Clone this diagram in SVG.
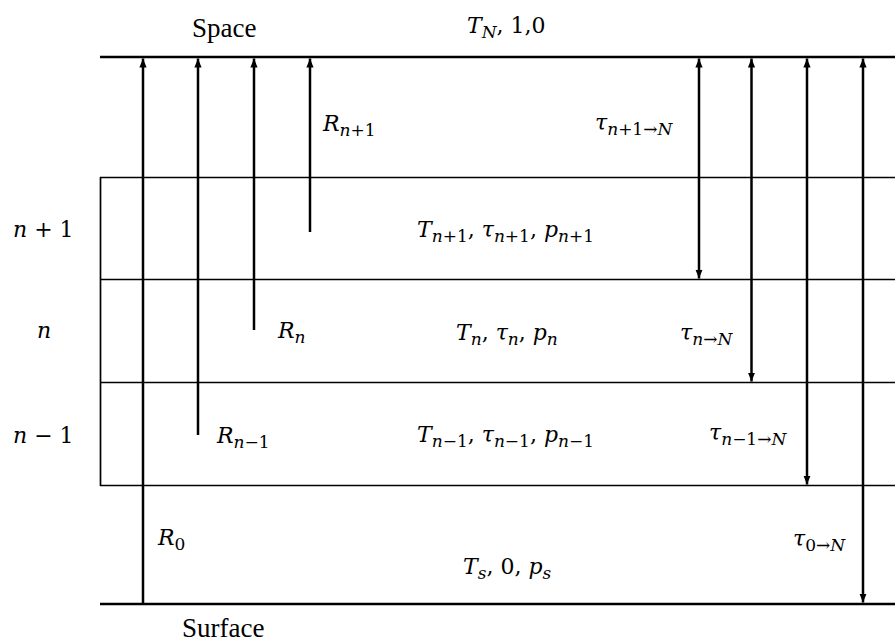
<svg xmlns="http://www.w3.org/2000/svg" width="895" height="642" viewBox="0 0 895 642">
<style>
  .bg{fill:#fff}
  .thick{stroke:#000;stroke-width:2.7;fill:none}
  .thin{stroke:#000;stroke-width:1.7;fill:none}
  .arr{stroke:#000;stroke-width:2.5;fill:none}
  .up{marker-end:url(#ah)}
  .dbl{marker-start:url(#ah);marker-end:url(#ah)}
  text{fill:#000}
  .w{font-family:"Liberation Serif","Times New Roman",serif;font-size:27px;font-style:normal}
  .m{font-family:"DejaVu Serif","Liberation Serif",serif;font-size:22px;font-style:italic}
  .s{font-size:17px}
  .u{font-style:normal}
</style>
<defs>
  <marker id="ah" viewBox="0 0 10 8" refX="10" refY="4" markerWidth="9" markerHeight="8" markerUnits="userSpaceOnUse" orient="auto-start-reverse">
    <path d="M0,0 L10,4 L0,8 z" fill="#000"/>
  </marker>
</defs>
<rect class="bg" x="0" y="0" width="895" height="642"/>

<g id="layers">
  <line class="thick" x1="100" y1="57" x2="895" y2="57"/>
  <line class="thin" x1="100" y1="177.5" x2="895" y2="177.5"/>
  <line class="thin" x1="100" y1="279.5" x2="895" y2="279.5"/>
  <line class="thin" x1="100" y1="382.5" x2="895" y2="382.5"/>
  <line class="thin" x1="100" y1="485.5" x2="895" y2="485.5"/>
  <line class="thin" x1="100.5" y1="177" x2="100.5" y2="486"/>
  <line class="thick" x1="100" y1="604" x2="895" y2="604"/>
</g>

<g id="connectors">
  <line class="arr up" x1="143" y1="604" x2="143" y2="58.5"/>
  <line class="arr up" x1="198" y1="435" x2="198" y2="58.5"/>
  <line class="arr up" x1="254" y1="330" x2="254" y2="58.5"/>
  <line class="arr up" x1="310" y1="232" x2="310" y2="58.5"/>
  <line class="arr dbl" x1="699" y1="58.5" x2="699" y2="278.5"/>
  <line class="arr dbl" x1="751.5" y1="58.5" x2="751.5" y2="381.5"/>
  <line class="arr dbl" x1="807" y1="58.5" x2="807" y2="484.5"/>
  <line class="arr dbl" x1="863" y1="58.5" x2="863" y2="602.5"/>
</g>

<g id="labels">
  <text id="space" class="w" x="192" y="37">Space</text>
  <text id="surface" class="w" x="182" y="637">Surface</text>
  <text id="top" class="m" x="467" y="33">T<tspan class="s" dy="5">N</tspan><tspan class="u" dy="-5">, 1,0</tspan></text>

  <text id="lbl-n1" class="m" x="13" y="237">n<tspan class="u"> + 1</tspan></text>
  <text id="lbl-n" class="m" x="37" y="338">n</text>
  <text id="lbl-nm1" class="m" x="13" y="443">n<tspan class="u"> − 1</tspan></text>

  <text id="r-n1" class="m" x="323" y="131">R<tspan class="s" dy="5">n</tspan><tspan class="s u">+1</tspan></text>
  <text id="r-n" class="m" x="278" y="338">R<tspan class="s" dy="5">n</tspan></text>
  <text id="r-nm1" class="m" x="217" y="443">R<tspan class="s" dy="5">n</tspan><tspan class="s u">−1</tspan></text>
  <text id="r-0" class="m" x="158" y="545">R<tspan class="s u" dy="5">0</tspan></text>

  <text id="t-n1" class="m" x="595" y="130">τ<tspan class="s" dy="5">n</tspan><tspan class="s u">+1→</tspan><tspan class="s">N</tspan></text>
  <text id="t-n" class="m" x="680" y="340">τ<tspan class="s" dy="5">n</tspan><tspan class="s u">→</tspan><tspan class="s">N</tspan></text>
  <text id="t-nm1" class="m" x="709" y="440">τ<tspan class="s" dy="5">n</tspan><tspan class="s u">−1→</tspan><tspan class="s">N</tspan></text>
  <text id="t-0" class="m" x="793" y="546">τ<tspan class="s u" dy="5">0→</tspan><tspan class="s">N</tspan></text>

  <text id="st-n1" class="m" x="417" y="237">T<tspan class="s" dy="5">n</tspan><tspan class="s u">+1</tspan><tspan class="u" dy="-5">, </tspan>τ<tspan class="s" dy="5">n</tspan><tspan class="s u">+1</tspan><tspan class="u" dy="-5">, </tspan>p<tspan class="s" dy="5">n</tspan><tspan class="s u">+1</tspan></text>
  <text id="st-n" class="m" x="456" y="340">T<tspan class="s" dy="5">n</tspan><tspan class="u" dy="-5">, </tspan>τ<tspan class="s" dy="5">n</tspan><tspan class="u" dy="-5">, </tspan>p<tspan class="s" dy="5">n</tspan></text>
  <text id="st-nm1" class="m" x="417" y="442">T<tspan class="s" dy="5">n</tspan><tspan class="s u">−1</tspan><tspan class="u" dy="-5">, </tspan>τ<tspan class="s" dy="5">n</tspan><tspan class="s u">−1</tspan><tspan class="u" dy="-5">, </tspan>p<tspan class="s" dy="5">n</tspan><tspan class="s u">−1</tspan></text>
  <text id="st-s" class="m" x="463" y="574">T<tspan class="s" dy="5">s</tspan><tspan class="u" dy="-5">, 0, </tspan>p<tspan class="s" dy="5">s</tspan></text>
</g>
</svg>
